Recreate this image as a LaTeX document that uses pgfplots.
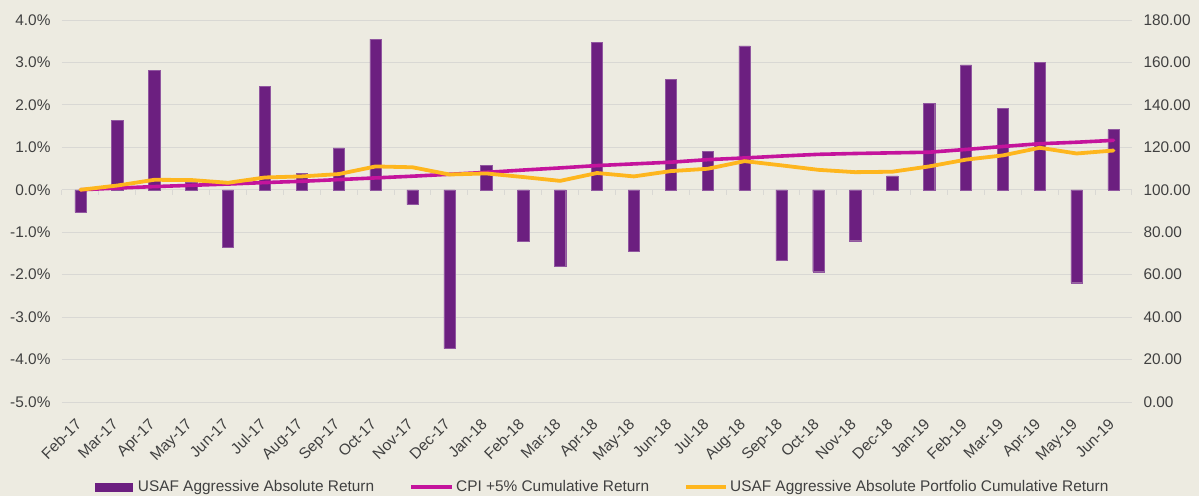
\documentclass[border=0pt]{standalone}
\usepackage{fontspec}
\setmainfont{Liberation Sans}
\usepackage{pgfplots}
\pgfplotsset{compat=1.18}
\definecolor{bg}{RGB}{237,235,225}
\definecolor{barc}{RGB}{108,31,128}
\definecolor{cpic}{RGB}{196,20,156}
\definecolor{orc}{RGB}{254,182,30}
\definecolor{gridc}{RGB}{217,216,212}
\definecolor{txt}{RGB}{64,64,64}
\newcommand{\lblfont}{\fontsize{15.4}{18}\selectfont}
\pgfplotsset{
  barlegend/.style={legend image code/.code={\fill[barc] (0pt,-4.3pt) rectangle (37pt,4.3pt); \path (40pt,0pt);}},
  cpilegend/.style={legend image code/.code={\draw[cpic, line width=4pt] (0pt,0pt) -- (41pt,0pt);}},
  orlegend/.style={legend image code/.code={\draw[orc, line width=4pt] (0pt,0pt) -- (40pt,0pt);}},
}
\begin{document}
\begin{tikzpicture}[x=1pt,y=1pt]
\fill[bg] (-62,-94) rectangle (1137,402);
\useasboundingbox (-62,-94) rectangle (1137,402);
\begin{axis}[
  at={(0,0)}, anchor=south west,
  scale only axis, width=1070pt, height=382pt,
  xmin=-0.5, xmax=28.5, ymin=-5, ymax=4,
  axis line style={draw=none},
  tick style={draw=none},
  xtick={0,...,28},
  xticklabels={Feb-17,Mar-17,Apr-17,May-17,Jun-17,Jul-17,Aug-17,Sep-17,Oct-17,Nov-17,Dec-17,Jan-18,Feb-18,Mar-18,Apr-18,May-18,Jun-18,Jul-18,Aug-18,Sep-18,Oct-18,Nov-18,Dec-18,Jan-19,Feb-19,Mar-19,Apr-19,May-19,Jun-19},
  xticklabel style={font=\lblfont, text=txt, inner sep=1pt, xshift=-6pt, yshift=-14pt, rotate=45, anchor=north east},
  ytick={-5,-4,-3,-2,-1,0,1,2,3,4},
  yticklabels={-5.0\%,-4.0\%,-3.0\%,-2.0\%,-1.0\%,0.0\%,1.0\%,2.0\%,3.0\%,4.0\%},
  yticklabel style={font=\lblfont, text=txt, xshift=-8pt},
  ymajorgrids, grid style={gridc, line width=1pt},
  clip=false,
  legend columns=3,
  legend style={at={(0.5056,-0.2225)}, anchor=center, draw=none, fill=none,
    font=\lblfont, text=txt,
    /tikz/every even column/.append style={column sep=33pt},
    nodes={inner xsep=2pt}},
]
\pgfplotsinvokeforeach{-0.5,0.5,...,28.5}{
  \draw[gridc, line width=1pt] (axis cs:#1,0) -- (axis cs:#1,-0.12);
}
\addplot[ybar, bar width=11.3pt, fill=barc, draw=barc!75!white, line width=0.4pt, barlegend]
  coordinates {
  (0,-0.53) (1,1.63) (2,2.81) (3,0.17) (4,-1.36) (5,2.44) (6,0.39) (7,0.99)
  (8,3.55) (9,-0.35) (10,-3.74) (11,0.57) (12,-1.22) (13,-1.79) (14,3.48)
  (15,-1.45) (16,2.61) (17,0.90) (18,3.39) (19,-1.67) (20,-1.93) (21,-1.20)
  (22,0.33) (23,2.04) (24,2.94) (25,1.92) (26,3.00) (27,-2.19) (28,1.42)
  };
\addlegendentry{USAF Aggressive Absolute Return}
\addlegendimage{cpilegend}
\addlegendentry{CPI +5\% Cumulative Return}
\addlegendimage{orlegend}
\addlegendentry{USAF Aggressive Absolute Portfolio Cumulative Return}
\end{axis}
\begin{axis}[
  at={(0,0)}, anchor=south west,
  scale only axis, width=1070pt, height=382pt,
  xmin=-0.5, xmax=28.5, ymin=0, ymax=180,
  axis y line*=right, hide x axis,
  axis line style={draw=none},
  tick style={draw=none},
  ytick={0,20,...,180},
  yticklabels={0.00,20.00,40.00,60.00,80.00,100.00,120.00,140.00,160.00,180.00},
  yticklabel style={font=\lblfont, text=txt, xshift=8pt},
]
\addplot[cpic, line width=3.6pt, line join=round, line cap=round, mark=none]
  coordinates {
  (0,100) (1,100.8) (2,101.5) (3,102.1) (4,102.7) (5,103.4) (6,104.0) (7,104.8)
  (8,105.6) (9,106.4) (10,107.3) (11,108.2) (12,109.3) (13,110.3) (14,111.4)
  (15,112.2) (16,113.0) (17,114.2) (18,115.0) (19,115.9) (20,116.7) (21,117.1)
  (22,117.4) (23,117.7) (24,119.0) (25,120.4) (26,121.7) (27,122.4) (28,123.3)
  };
\addplot[orc, line width=3.8pt, line join=round, line cap=round, mark=none]
  coordinates {
  (0,100) (1,102.0) (2,104.7) (3,104.6) (4,103.3) (5,105.8) (6,106.3) (7,107.4)
  (8,111.0) (9,110.6) (10,107.2) (11,107.7) (12,106.0) (13,104.2) (14,107.9)
  (15,106.3) (16,108.8) (17,109.9) (18,113.5) (19,111.5) (20,109.4) (21,108.3)
  (22,108.5) (23,111.0) (24,114.2) (25,116.2) (26,119.8) (27,117.1) (28,118.5)
  };
\end{axis}
\end{tikzpicture}
\end{document}
